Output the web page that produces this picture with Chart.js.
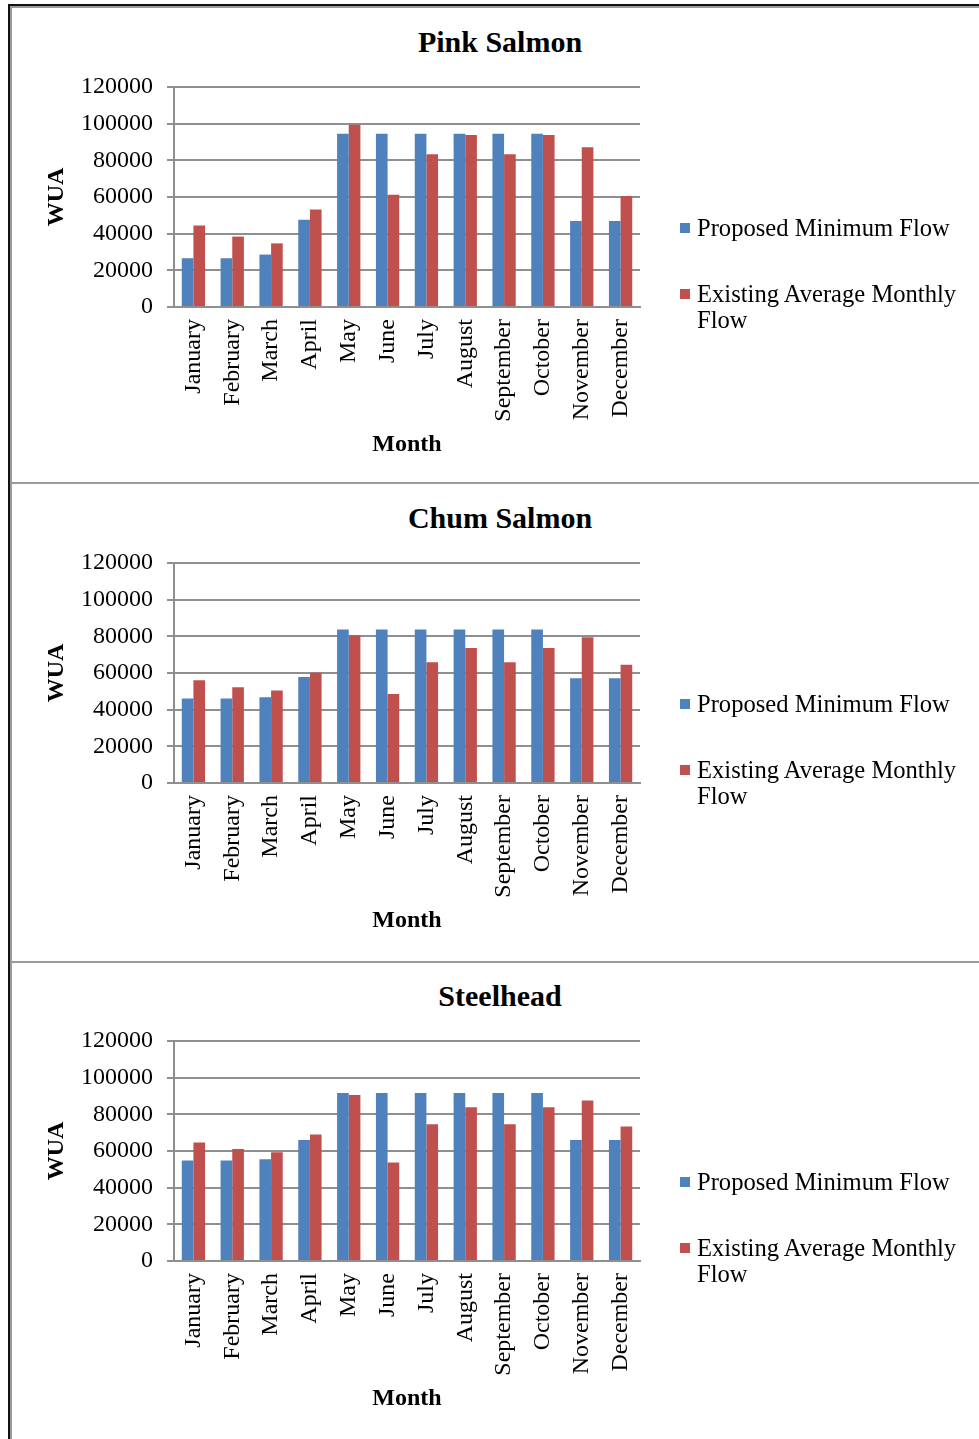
<!DOCTYPE html>
<html>
<head>
<meta charset="utf-8">
<script src="https://cdn.jsdelivr.net/npm/chart.js@4.4.1/dist/chart.umd.min.js"></script>
<style>
  html, body { margin: 0; padding: 0; background: #fff; }
  #page { position: relative; width: 979px; height: 1439px; overflow: hidden; background: #fff; }
  canvas { position: absolute; left: 0; }
  .rule { position: absolute; }
  .legend { position: absolute; font-family: "Liberation Serif", "Times New Roman", serif; font-size: 24.6px; line-height: 26px; color: #000; white-space: nowrap; }
  .swatch { position: absolute; width: 10px; height: 10px; }
  .title { position: absolute; left: 0; width: 1000px; text-align: center; font-family: "Liberation Serif", "Times New Roman", serif; font-weight: bold; font-size: 30px; line-height: 34px; color: #000; }
</style>
</head>
<body>
<div id="page">
  <div class="rule" style="left:8px;top:4px;width:2px;height:1435px;background:#111"></div>
  <div class="rule" style="left:10px;top:6px;width:2px;height:1433px;background:#9a9a9a"></div>
  <div class="rule" style="left:8px;top:4px;width:971px;height:2px;background:#111"></div>
  <div class="rule" style="left:10px;top:6px;width:969px;height:2px;background:#9a9a9a"></div>
  <div class="rule" style="left:12px;top:482px;width:967px;height:2px;background:#9a9a9a"></div>
  <div class="rule" style="left:12px;top:961px;width:967px;height:2px;background:#9a9a9a"></div>
</div>
<script>
// Months on the category axis
const months = ["January", "February", "March", "April", "May", "June",
                "July", "August", "September", "October", "November", "December"];

// Weighted usable area (WUA) per month
const pinkProposed  = [26600, 26600, 28600, 47600, 94500, 94500, 94500, 94500, 94500, 94500, 46900, 46900];
const pinkExisting  = [44500, 38400, 34700, 53200, 99400, 61200, 83300, 93800, 83300, 93800, 87100, 60500];
const chumProposed  = [46100, 46100, 46800, 57800, 83700, 83700, 83700, 83700, 83700, 83700, 57100, 57100];
const chumExisting  = [56000, 52200, 50400, 60200, 80600, 48600, 65800, 73700, 65800, 73700, 79500, 64500];
const steelProposed = [54800, 54800, 55500, 66000, 91600, 91600, 91600, 91600, 91600, 91600, 66000, 66000];
const steelExisting = [64700, 61100, 59300, 69000, 90500, 53700, 74600, 83900, 74600, 83900, 87500, 73400];

const seriesNames = ["Proposed Minimum Flow", "Existing Average Monthly Flow"];
const yMax = 120000;
const yStep = 20000;

const panels = [
  { title: "Pink Salmon", proposed: pinkProposed,  existing: pinkExisting,  top: 0 },
  { title: "Chum Salmon", proposed: chumProposed,  existing: chumExisting,  top: 476 },
  { title: "Steelhead",   proposed: steelProposed, existing: steelExisting, top: 954 }
];

const BLUE = "#4F81BD";
const RED = "#C0504D";
const GRID = "#8f8f8f";
const SERIF = "'Liberation Serif', 'Times New Roman', serif";

Chart.defaults.font.family = SERIF;
Chart.defaults.color = "#000";

const page = document.getElementById("page");

panels.forEach(function (p) {
  // Panel heading, centred across the panel
  const head = document.createElement("div");
  head.className = "title";
  head.style.top = (p.top + 25) + "px";
  head.textContent = p.title;
  page.appendChild(head);

  const canvas = document.createElement("canvas");
  canvas.width = 979;
  canvas.height = 478;
  canvas.style.top = p.top + "px";
  page.appendChild(canvas);

  new Chart(canvas.getContext("2d"), {
    type: "bar",
    data: {
      labels: months,
      datasets: [
        { label: seriesNames[0], data: p.proposed, backgroundColor: BLUE,
          categoryPercentage: 0.6, barPercentage: 1.0 },
        { label: seriesNames[1], data: p.existing, backgroundColor: RED,
          categoryPercentage: 0.6, barPercentage: 1.0 }
      ]
    },
    options: {
      responsive: false,
      animation: false,
      devicePixelRatio: 1,
      layout: { padding: { left: 40, right: 339, top: 87, bottom: 19 } },
      plugins: {
        legend: { display: false },
        tooltip: { enabled: false },
        title: { display: false }
      },
      scales: {
        x: {
          grid: { display: false, drawTicks: false },
          border: { display: true, color: GRID, width: 2 },
          ticks: {
            autoSkip: false,
            minRotation: 90,
            maxRotation: 90,
            padding: 12,
            font: { family: SERIF, size: 24 },
            color: "#000"
          },
          title: {
            display: true,
            text: "Month",
            font: { family: SERIF, size: 24, weight: "bold", lineHeight: 1.2 },
            color: "#000",
            padding: { top: 0, bottom: 0 }
          },
          afterFit: function (scale) { scale.height = 152; }
        },
        y: {
          min: 0,
          max: yMax,
          grid: { color: GRID, lineWidth: 2, tickLength: 7, drawTicks: true },
          border: { display: true, color: GRID, width: 2 },
          ticks: {
            stepSize: yStep,
            padding: 14,
            font: { family: SERIF, size: 24 },
            color: "#000",
            callback: function (v) { return String(v); }
          },
          title: {
            display: true,
            text: "WUA",
            font: { family: SERIF, size: 24, weight: "bold", lineHeight: 1.2 },
            color: "#000",
            padding: { top: 2, bottom: 2 }
          },
          afterFit: function (scale) { scale.width = 134; }
        }
      }
    }
  });

  // Legend to the right of the plot
  const colors = [BLUE, RED];
  const itemTops = [215, 281];
  seriesNames.forEach(function (name, i) {
    const sw = document.createElement("div");
    sw.className = "swatch";
    sw.style.left = "680px";
    sw.style.top = (p.top + itemTops[i] + 8) + "px";
    sw.style.background = colors[i];
    page.appendChild(sw);

    const tx = document.createElement("div");
    tx.className = "legend";
    tx.style.left = "697px";
    tx.style.top = (p.top + itemTops[i]) + "px";
    if (i === 1) {
      tx.innerHTML = "Existing Average Monthly<br>Flow";
    } else {
      tx.textContent = name;
    }
    page.appendChild(tx);
  });
});
</script>
</body>
</html>
